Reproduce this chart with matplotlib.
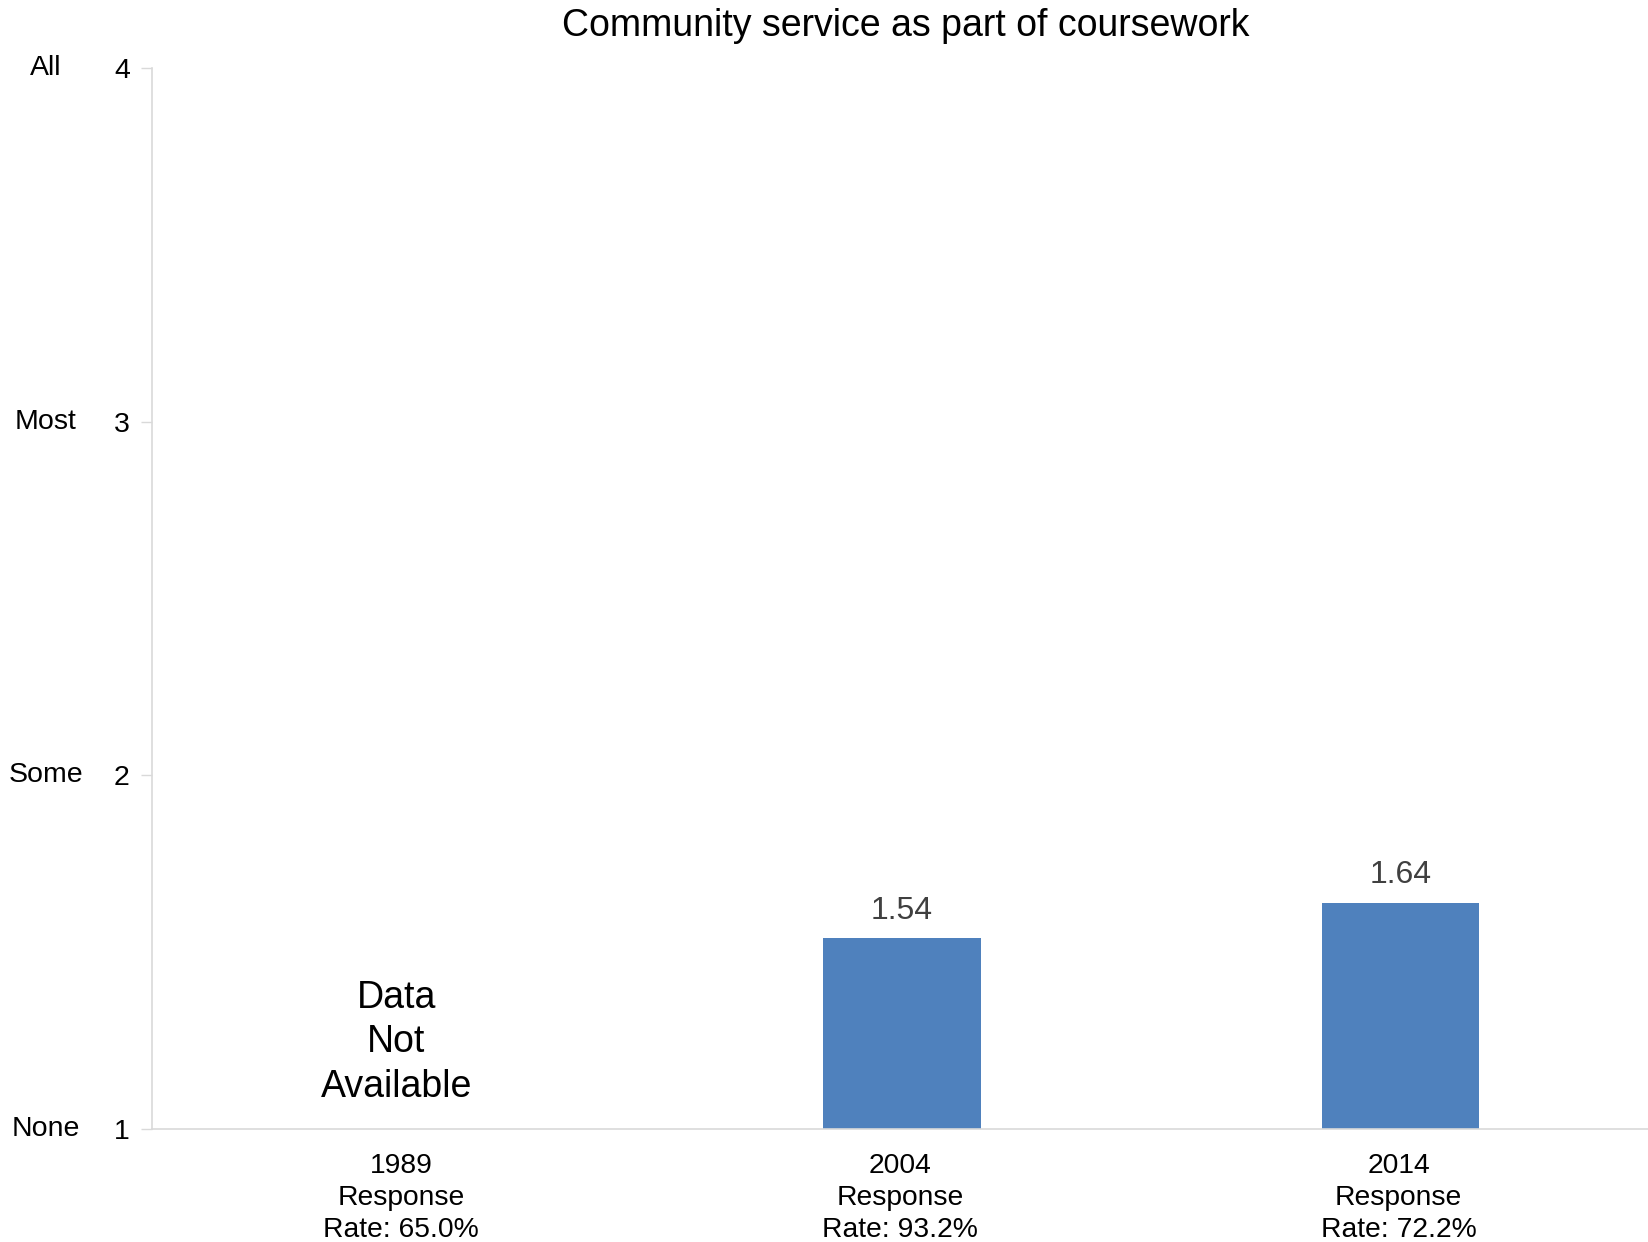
import matplotlib
matplotlib.use("Agg")
import matplotlib.pyplot as plt
import matplotlib.transforms as mtransforms
import numpy as np

years = ["1989", "2004", "2014"]
response_rates = ["65.0%", "93.2%", "72.2%"]
values = [None, 1.54, 1.64]
y_ticks = [1, 2, 3, 4]
y_level_labels = ["None", "Some", "Most", "All"]
title = "Community service as part of coursework"
missing_text = "Data\nNot\nAvailable"

plt.rcParams['font.family'] = ['Liberation Sans', 'DejaVu Sans']

fig = plt.figure(figsize=(16.48, 12.42), dpi=100)
ax = fig.add_axes([152/1648, 1 - 1129/1242, (1648-152)/1648, (1129-68)/1242])

x = np.arange(len(years))
bar_color = "#4f81bd"
for xi, v in zip(x, values):
    if v is None:
        ax.text(xi - 0.01, 1.245, missing_text, ha="center", va="center",
                fontsize=27, color="black", linespacing=1.3)
    else:
        ax.bar(xi + 0.004, v - 1, bottom=1, width=0.315, color=bar_color)
        ax.text(xi + 0.004, v + 0.035, f"{v:.2f}", ha="center", va="bottom",
                fontsize=23, color="#404040")

ax.set_xlim(-0.5, 2.5)
ax.set_ylim(1, 4)
ax.set_yticks(y_ticks)
ax.set_yticklabels([str(t) for t in y_ticks], fontsize=20.5)
ax.set_xticks(x)
ax.set_xticklabels([f"{y}\nResponse\nRate: {r}" for y, r in zip(years, response_rates)],
                   fontsize=20.3, linespacing=1.3)
ax.tick_params(axis="x", length=0, pad=17)
ax.tick_params(axis="y", length=8, color="#d9d9d9", pad=8, width=1)

for s in ["top", "right"]:
    ax.spines[s].set_visible(False)
for s in ["left", "bottom"]:
    ax.spines[s].set_color("#d9d9d9")
    ax.spines[s].set_linewidth(1.2)

trans = mtransforms.blended_transform_factory(fig.transFigure, ax.transData)
for t, lab in zip(y_ticks, y_level_labels):
    fig.text(46/1648, t, lab, transform=trans, ha="center", va="center", fontsize=20.5)

fig.text(906/1648, 1 - 26/1242, title, ha="center", va="center", fontsize=27)

fig.savefig("out.png", dpi=100)
